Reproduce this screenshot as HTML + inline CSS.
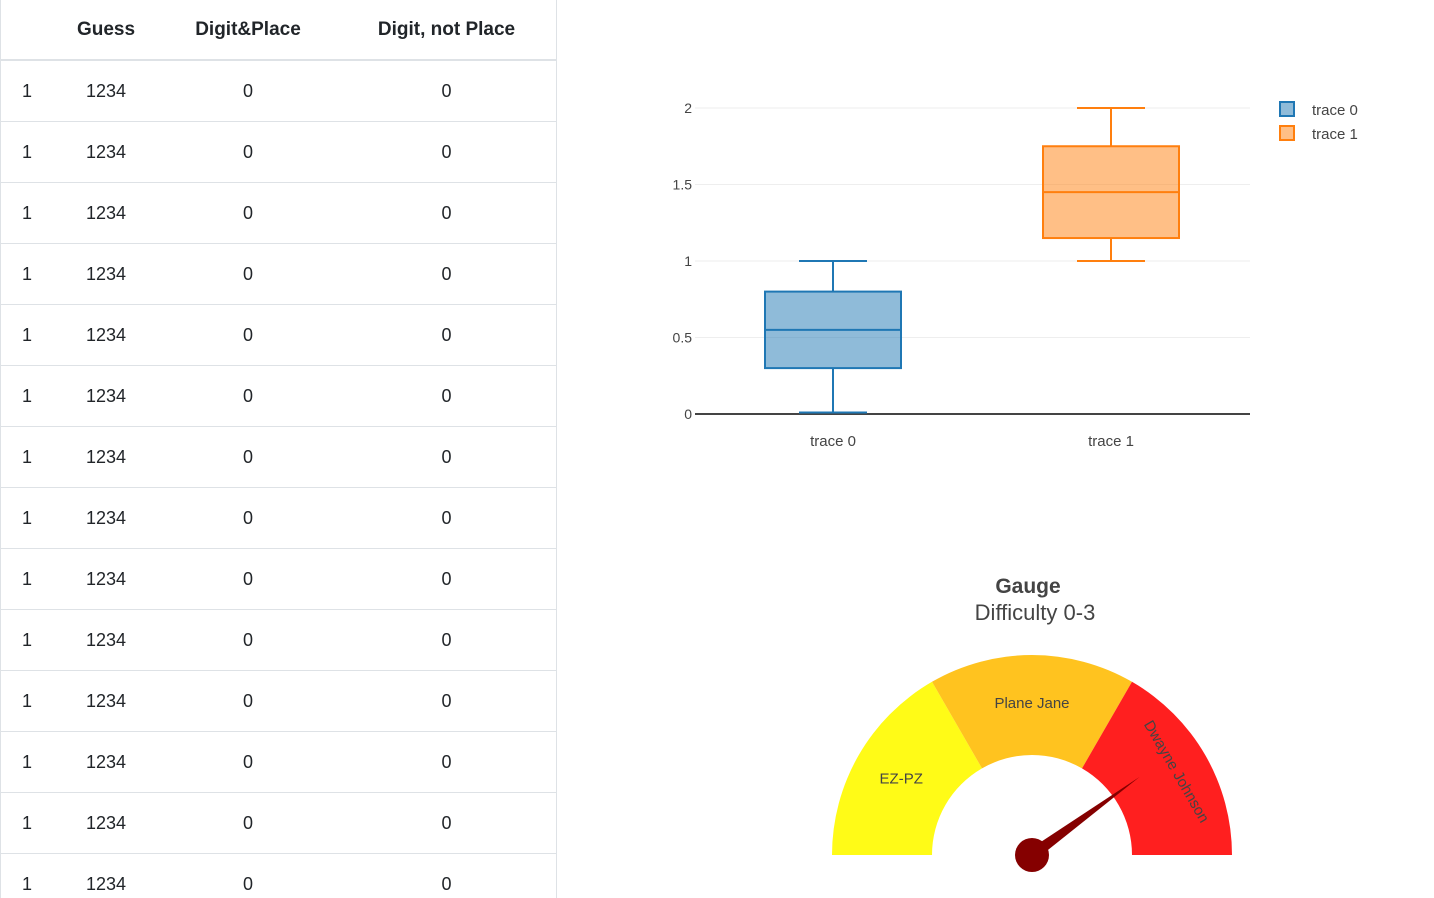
<!DOCTYPE html>
<html><head><meta charset="utf-8"><style>
body{margin:0;width:1434px;height:898px;overflow:hidden;background:#fff;font-family:"Liberation Sans","DejaVu Sans",sans-serif;position:relative}
#tbl{position:absolute;left:0;top:0;width:555px;border-left:1px solid #dee2e6;border-right:1px solid #dee2e6;height:898px;overflow:hidden}
table{border-collapse:collapse;width:555px;color:#212529;font-size:18px;table-layout:fixed}
th{height:59px;border-bottom:2px solid #dee2e6;font-weight:bold;text-align:center;font-size:19px;padding:0}
td{height:60px;border-bottom:1px solid #dee2e6;text-align:center;padding:0}
svg{position:absolute;left:0;top:0}
</style></head><body>
<div id="tbl"><table>
<colgroup><col style="width:52px"><col style="width:106px"><col style="width:178px"><col style="width:219px"></colgroup>
<thead><tr><th></th><th>Guess</th><th>Digit&amp;Place</th><th>Digit, not Place</th></tr></thead>
<tbody id="tb"></tbody></table></div>
<svg id="s" width="1434" height="898"></svg>
<script>
const rows=Array(14).fill(["1","1234","0","0"]);
const tb=document.getElementById('tb');
rows.forEach(r=>{const tr=document.createElement('tr');


r.forEach(v=>{const td=document.createElement('td');td.textContent=v;tr.appendChild(td);});tb.appendChild(tr);});

const boxNames=["trace 0","trace 1"];
const boxMin=[0.01,1];
const boxQ1=[0.3,1.15];
const boxMed=[0.55,1.45];
const boxQ3=[0.8,1.75];
const boxMax=[1,2];
const yTicks=[0,0.5,1,1.5,2];
const colors=["#1f77b4","#ff7f0e"];
const fills=["rgba(31,119,180,0.5)","rgba(255,127,14,0.5)"];
const gaugeLabels=["EZ-PZ","Plane Jane","Dwayne Johnson"];
const gaugeRanges=[0,1,2,3];
const gaugeColors=["#fffb17","#ffc31f","#ff1f1f"];
const gaugeValue=2.4;

const s=document.getElementById('s');const NS="http://www.w3.org/2000/svg";
function el(t,a,txt){const e=document.createElementNS(NS,t);for(const k in a)e.setAttribute(k,a[k]);if(txt!=null)e.textContent=txt;s.appendChild(e);return e;}
const y=v=>414-v*153;const x=i=>833+i*278;
yTicks.forEach(t=>{const g=el('line',{x1:695,x2:1250,y1:y(t),y2:y(t),stroke:t===0?'#444':'#eee','stroke-width':t===0?2:1});


const l=el('text',{x:692,y:y(t)+5,'text-anchor':'end','font-size':14,fill:'#444'},String(t));

});
boxNames.forEach((n,i)=>{const cx=x(i),c=colors[i],w=68;
const g=document.createElementNS(NS,'g');s.appendChild(g);


const add=(t,a)=>{const e=el(t,a);g.appendChild(e);};
add('line',{x1:cx,x2:cx,y1:y(boxMax[i]),y2:y(boxQ3[i]),stroke:c,'stroke-width':2});
add('line',{x1:cx,x2:cx,y1:y(boxQ1[i]),y2:y(boxMin[i]),stroke:c,'stroke-width':2});
add('line',{x1:cx-34,x2:cx+34,y1:y(boxMax[i]),y2:y(boxMax[i]),stroke:c,'stroke-width':2});
add('line',{x1:cx-34,x2:cx+34,y1:y(boxMin[i]),y2:y(boxMin[i]),stroke:c,'stroke-width':2});
add('rect',{x:cx-w,y:y(boxQ3[i]),width:2*w,height:y(boxQ1[i])-y(boxQ3[i]),fill:fills[i],stroke:c,'stroke-width':2});
add('line',{x1:cx-w,x2:cx+w,y1:y(boxMed[i]),y2:y(boxMed[i]),stroke:c,'stroke-width':2});
const l=el('text',{x:cx,y:446,'text-anchor':'middle','font-size':15,fill:'#444'},n);


const lr=el('rect',{x:1280,y:102+i*24,width:14,height:14,fill:fills[i],stroke:c,'stroke-width':2});


const lt=el('text',{x:1312,y:115+i*24,'font-size':15,fill:'#444'},n);

});

const t1=el('text',{x:1028,y:593,'text-anchor':'middle','font-size':21,'font-weight':'bold',fill:'#444'},'Gauge');


const t2=el('text',{x:1035,y:620,'text-anchor':'middle','font-size':22,fill:'#444'},'Difficulty 0-3');


const cx=1032,cy=855,R=200,r=100,max=3;
const ang=v=>Math.PI*(1-v/max);
const pt=(a,rad)=>[cx+rad*Math.cos(a),cy-rad*Math.sin(a)];
gaugeLabels.forEach((lab,i)=>{const a0=ang(gaugeRanges[i]),a1=ang(gaugeRanges[i+1]);
const [x0,y0]=pt(a0,R),[x1,y1]=pt(a1,R),[x2,y2]=pt(a1,r),[x3,y3]=pt(a0,r);
const p=el('path',{d:`M${x0},${y0}A${R},${R} 0 0 1 ${x1},${y1}L${x2},${y2}A${r},${r} 0 0 0 ${x3},${y3}Z`,fill:gaugeColors[i]});


const am=(a0+a1)/2,[lx,ly]=pt(am,i===2?166:151);
const rot=i===2?(90-am*180/Math.PI):0;
const t=el('text',{x:lx,y:ly,'text-anchor':'middle','dominant-baseline':'middle','font-size':15,fill:'#444',transform:`rotate(${rot} ${lx} ${ly})`},lab);

});
const a=ang(gaugeValue),[tx,ty]=pt(a,133),pa=a+Math.PI/2,[bx1,by1]=[cx+6*Math.cos(pa),cy-6*Math.sin(pa)],[bx2,by2]=[cx-6*Math.cos(pa),cy+6*Math.sin(pa)];
const nd=el('path',{d:`M${bx1},${by1}L${tx},${ty}L${bx2},${by2}Z`,fill:'#850000'});


const hub=el('circle',{cx:cx,cy:cy,r:17,fill:'#850000'});


</script></body></html>
